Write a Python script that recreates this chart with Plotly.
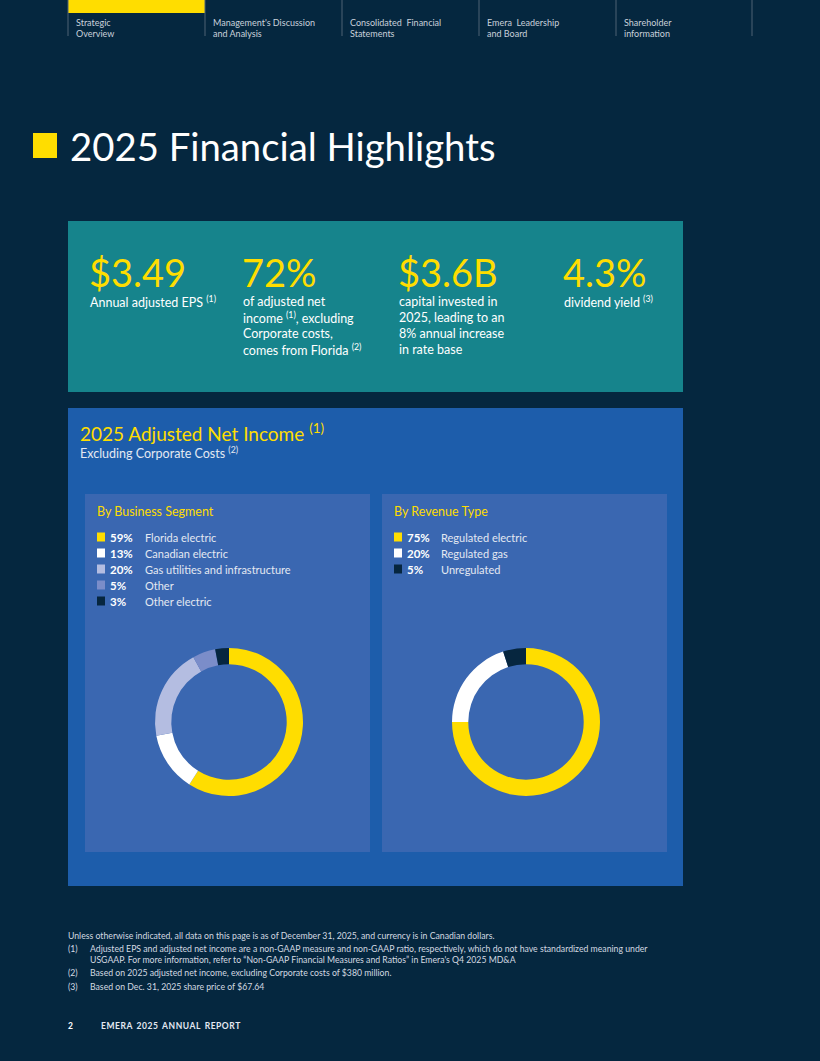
import plotly.graph_objects as go

# ---------------- data ----------------
nav_labels = [["Strategic", "Overview"],
              ["Management's Discussion", "and Analysis"],
              ["Consolidated  Financial", "Statements"],
              ["Emera  Leadership", "and Board"],
              ["Shareholder", "information"]]

highlight_values = ["$3.49", "72%", "$3.6B", "4.3%"]
highlight_texts = [
    ["Annual adjusted EPS <sup>(1)</sup>"],
    ["of adjusted net", "income <sup>(1)</sup>, excluding", "Corporate costs,", "comes from Florida <sup>(2)</sup>"],
    ["capital invested in", "2025, leading to an", "8% annual increase", "in rate base"],
    ["dividend yield <sup>(3)</sup>"],
]

segment_labels = ["Florida electric", "Canadian electric", "Gas utilities and infrastructure", "Other", "Other electric"]
segment_values = [59, 13, 20, 5, 3]
segment_colors = ["#FFDD00", "#FFFFFF", "#B4BDE1", "#7B8DC9", "#06263F"]

revenue_labels = ["Regulated electric", "Regulated gas", "Unregulated"]
revenue_values = [75, 20, 5]
revenue_colors = ["#FFDD00", "#FFFFFF", "#06263F"]

footnotes = [
    ("", "Unless otherwise indicated, all data on this page is as of December 31, 2025, and currency is in Canadian dollars."),
    ("(1)", "Adjusted EPS and adjusted net income are a non-GAAP measure and non-GAAP ratio, respectively, which do not have standardized meaning under"),
    ("", "USGAAP. For more information, refer to \u201cNon-GAAP Financial Measures and Ratios\u201d in Emera's Q4 2025 MD&A"),
    ("(2)", "Based on 2025 adjusted net income, excluding Corporate costs of $380 million."),
    ("(3)", "Based on Dec. 31, 2025 share price of $67.64"),
]

# ---------------- styling ----------------
W, H = 820, 1061
BG = "#05273F"
TEAL = "#16848C"
BLUE = "#1D5DAB"
PANEL = "#3A67B1"
YELLOW = "#FFDD00"
FONT = "Lato"

fig = go.Figure()
shapes = []
ann = []

def rect(x0, y0, x1, y1, color):
    shapes.append(dict(type="rect", xref="x", yref="y", x0=x0, y0=y0, x1=x1, y1=y1,
                       fillcolor=color, line=dict(width=0), layer="below"))

def text(x, y, s, size, color, xanchor="left", yanchor="middle", family=FONT):
    ann.append(dict(x=x - 2, y=y, xref="x", yref="y", text=s, showarrow=False,
                    xanchor=xanchor, yanchor=yanchor,
                    font=dict(size=size, color=color, family=family)))

# ---- top nav ----
rect(68, 0, 205, 13, YELLOW)
sep_x = [68, 205, 342, 479, 616, 752]
for sx in sep_x:
    shapes.append(dict(type="line", xref="x", yref="y", x0=sx, x1=sx, y0=0, y1=36,
                       line=dict(color="#4F6275", width=1)))
for i, lines in enumerate(nav_labels):
    for j, ln in enumerate(lines):
        text(sep_x[i] + 8, 22 + j * 11.5, ln, 9, "#C9D1DB")

# ---- title ----
rect(33, 133, 57, 158, YELLOW)
text(70, 146, "2025 Financial Highlights", 38.3, "#FFFFFF")

# ---- highlights box ----
rect(68, 221, 683, 392, TEAL)
hx = [90, 243, 399, 564]
for i in range(4):
    text(hx[i] - 1, 272, highlight_values[i], 38, YELLOW)
    for j, ln in enumerate(highlight_texts[i]):
        text(hx[i], 301 + j * 16, ln, 12.5, "#FFFFFF")

# ---- adjusted net income box ----
rect(68, 408, 683, 886, BLUE)
text(80, 432, "2025 Adjusted Net Income <sup>(1)</sup>", 19, YELLOW)
text(80, 452, "Excluding Corporate Costs <sup>(2)</sup>", 12.5, "#E4E9F2")

panels = [(85, 370, "By Business Segment", segment_labels, segment_values, segment_colors, 145),
          (382, 667, "By Revenue Type", revenue_labels, revenue_values, revenue_colors, 441)]
for (px0, px1, ptitle, labs, vals, cols, labx) in panels:
    rect(px0, 494, px1, 852, PANEL)
    text(px0 + 12, 511, ptitle, 12.5, YELLOW)
    for j, (l, v, c) in enumerate(zip(labs, vals, cols)):
        yy = 537 + j * 16
        shapes.append(dict(type="rect", xref="x", yref="y", x0=px0 + 12, x1=px0 + 20,
                           y0=yy - 4.5, y1=yy + 4.5, fillcolor=c, line=dict(width=0)))
        text(px0 + 25, yy, f"<b>{v}%</b>", 11.5, "#FFFFFF")
        text(labx, yy, l, 11, "#E4E9F2")

# donuts
def pie_domain(cx, cy, r):
    return dict(x=[(cx - r) / W, (cx + r) / W], y=[1 - (cy + r) / H, 1 - (cy - r) / H])

fig.add_trace(go.Pie(labels=segment_labels, values=segment_values, sort=False,
                     direction="clockwise", rotation=0, hole=0.78,
                     marker=dict(colors=segment_colors, line=dict(width=0)),
                     textinfo="none", hoverinfo="label+percent", showlegend=False,
                     domain=pie_domain(229, 722, 74)))
fig.add_trace(go.Pie(labels=revenue_labels, values=revenue_values, sort=False,
                     direction="clockwise", rotation=0, hole=0.78,
                     marker=dict(colors=revenue_colors, line=dict(width=0)),
                     textinfo="none", hoverinfo="label+percent", showlegend=False,
                     domain=pie_domain(526, 722, 74)))

# ---- footnotes ----
fy = [935, 948, 959, 972, 986]
for (num, t), y in zip(footnotes, fy):
    if num == "" and y == 935:
        text(68, y, t, 8.7, "#D3D9E1")
    else:
        if num:
            text(68, y, num, 8.7, "#D3D9E1")
        text(90, y, t, 8.7, "#D3D9E1")

text(68, 1026, "<b>2</b>", 8.5, "#FFFFFF")
text(101, 1026, "<b>E M E R A   2 0 2 5   A N N U A L   R E P O R T</b>".replace("   ", "\u2002").replace(" ", "\u200a"), 8.5, "#E4E9F2")

fig.update_layout(
    width=W, height=H,
    margin=dict(l=0, r=0, t=0, b=0),
    paper_bgcolor=BG, plot_bgcolor=BG,
    xaxis=dict(range=[0, W], visible=False, fixedrange=True),
    yaxis=dict(range=[H, 0], visible=False, fixedrange=True),
    shapes=shapes, annotations=ann,
    showlegend=False,
)

fig.write_html("out.html", config={"displayModeBar": False},
               post_script="document.body.style.margin='0';document.body.style.background='#05273F';")
